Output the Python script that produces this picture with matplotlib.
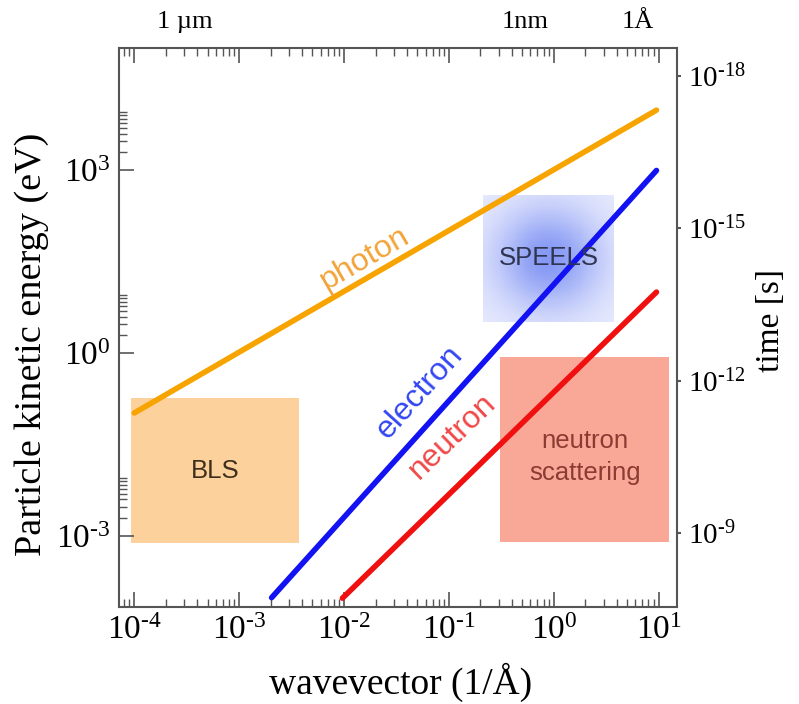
import numpy as np
import matplotlib
matplotlib.use('Agg')
import matplotlib.pyplot as plt
from matplotlib.colors import LinearSegmentedColormap
from matplotlib.ticker import FixedLocator, NullFormatter, NullLocator, FixedFormatter
from matplotlib.patches import Rectangle

# ---------------- data ----------------
photon_k = [1.0e-4, 9.55]
photon_E = [0.105, 9.77e3]
electron_k = [2.04e-3, 9.55]
electron_E = [9.8e-5, 1.0e3]
neutron_k = [9.66e-3, 9.55]
neutron_E = [9.6e-5, 10.1]

region_names = ['BLS', 'SPEELS', 'neutron\nscattering']
region_k = [(9.23e-5, 3.72e-3), (0.213, 3.72), (0.308, 12.7)]
region_E = [(7.8e-4, 0.182), (3.30, 395.0), (7.9e-4, 0.879)]

x_ticks = [1e-4, 1e-3, 1e-2, 1e-1, 1e0, 1e1]
x_ticklabels = [r'$10^{\text{-}4}$', r'$10^{\text{-}3}$', r'$10^{\text{-}2}$',
                r'$10^{\text{-}1}$', r'$10^{0}$', r'$10^{1}$']
E_ticks = [1e-3, 1e0, 1e3]
E_ticklabels = [r'$10^{\text{-}3}$', r'$10^{0}$', r'$10^{3}$']
t_ticks = [1e-18, 1e-15, 1e-12, 1e-9]
t_ticklabels = [r'$10^{\text{-}18}$', r'$10^{\text{-}15}$', r'$10^{\text{-}12}$', r'$10^{\text{-}9}$']
top_labels = ['1 µm', '1nm', '1Å']
top_label_k = [3.03e-4, 0.535, 6.27]

# ---------------- style ----------------
plt.rcParams['font.family'] = ['Liberation Serif', 'DejaVu Serif']
plt.rcParams['mathtext.fontset'] = 'custom'
plt.rcParams['mathtext.rm'] = 'Liberation Serif'
plt.rcParams['mathtext.it'] = 'Liberation Serif:italic'
plt.rcParams['mathtext.bf'] = 'Liberation Serif:bold'
SANS = ['Liberation Sans', 'DejaVu Sans']
spine_c = '#555555'

fig = plt.figure(figsize=(7.99, 7.04), dpi=100)
ax = fig.add_axes([119/799, 1-607/704, (677-119)/799, (607-48)/704])
ax.set_xscale('log')
ax.set_yscale('log')
ax.set_xlim(10**-4.1456, 10**1.1757)
ax.set_ylim(10**-4.162, 10**5.009)

# regions
box_colors = ['#fdd19c', None, '#f9a898']
for name, (k0, k1), (e0, e1), col in zip(region_names, region_k, region_E, box_colors):
    if col is not None:
        ax.add_patch(Rectangle((k0, e0), k1-k0, e1-e0, facecolor=col, edgecolor='none', zorder=1))
    else:
        xs = np.logspace(np.log10(k0), np.log10(k1), 120)
        ys = np.logspace(np.log10(e0), np.log10(e1), 120)
        u = np.linspace(-1, 1, 119)
        U, V = np.meshgrid(u, u)
        R2 = U**2 + V**2
        val = np.exp(-1.5*R2)
        cmap = LinearSegmentedColormap.from_list('sp', ['#e9ecfd', '#8598f4'])
        ax.pcolormesh(xs, ys, val, cmap=cmap, vmin=0, vmax=1, shading='flat', zorder=1,
                      rasterized=True)

text_cols = ['#3e2f1c', '#2f3550', '#8c3b32']
text_dy = [0.0, 0.0, -0.12]
for name, (k0, k1), (e0, e1), tc, dy in zip(region_names, region_k, region_E, text_cols, text_dy):
    xc = np.sqrt(k0*k1)
    yc = np.sqrt(e0*e1) * 10**dy
    ax.text(xc, yc, name, ha='center', va='center', fontsize=18.5, color=tc,
            family=SANS, linespacing=1.45, zorder=4)

# lines
ax.plot(photon_k, photon_E, color='#f7a400', lw=4.0, solid_capstyle='round', zorder=3)
ax.plot(electron_k, electron_E, color='#1212f2', lw=4.0, solid_capstyle='round', zorder=3)
ax.plot(neutron_k, neutron_E, color='#f01010', lw=4.0, solid_capstyle='round', zorder=3)

ax.text(10**-1.80, 10**1.564, 'photon', rotation=30, rotation_mode='anchor',
        ha='center', va='center', fontsize=23, color='#f2a43a', family=SANS, zorder=4)
ax.text(10**-1.275, 10**-0.635, 'electron', rotation=48, rotation_mode='anchor',
        ha='center', va='center', fontsize=23, color='#3346f2', family=SANS, zorder=4)
ax.text(10**-0.969, 10**-1.357, 'neutron', rotation=44, rotation_mode='anchor',
        ha='center', va='center', fontsize=23, color='#f04848', family=SANS, zorder=4)

# axes styling
for s in ax.spines.values():
    s.set_color(spine_c)
    s.set_linewidth(1.5)

ax.xaxis.set_major_locator(FixedLocator(x_ticks))
ax.xaxis.set_major_formatter(FixedFormatter(x_ticklabels))
xminor = [m*10.0**d for d in range(-5, 2) for m in range(2, 10)]
ax.xaxis.set_minor_locator(FixedLocator(xminor))
ax.xaxis.set_minor_formatter(NullFormatter())

ax.yaxis.set_major_locator(FixedLocator(E_ticks))
ax.yaxis.set_major_formatter(FixedFormatter(E_ticklabels))
yminor = [m*10.0**d for d in (-3, 0, 3) for m in range(2, 10)]
ax.yaxis.set_minor_locator(FixedLocator(yminor))
ax.yaxis.set_minor_formatter(NullFormatter())

ax.tick_params(which='major', direction='in', length=11, width=1.2, color=spine_c,
               top=True, right=False, labelsize=24, pad=6)
ax.tick_params(which='minor', direction='in', length=5.5, width=1.0, color=spine_c,
               top=True, right=False)

ax.set_xlabel('wavevector (1/Å)', fontsize=27)
ax.xaxis.set_label_coords(0.504, -0.10)
ax.set_ylabel('Particle kinetic energy (eV)', fontsize=27.5)
ax.yaxis.set_label_coords(-0.125, 0.47)

# right axis: time
ax2 = ax.twinx()
ax2.set_yscale('log')
ax2.set_ylim(10**-7.543, 10**-18.551)
ax2.yaxis.set_major_locator(FixedLocator(t_ticks))
ax2.yaxis.set_major_formatter(FixedFormatter(t_ticklabels))
ax2.yaxis.set_minor_locator(NullLocator())
ax2.tick_params(which='major', direction='out', length=3, width=1.5, color=spine_c,
                labelsize=21, pad=5)
for s in ax2.spines.values():
    s.set_visible(False)
ax2.set_ylabel('time [s]', fontsize=24)
ax2.yaxis.set_label_coords(1.14, 0.513)

# top labels
for lab, kk in zip(top_labels, top_label_k):
    ax.text(kk, 1.047, lab, transform=ax.get_xaxis_transform(), ha='center', va='center',
            fontsize=19)

fig.savefig('out.png', dpi=100)
